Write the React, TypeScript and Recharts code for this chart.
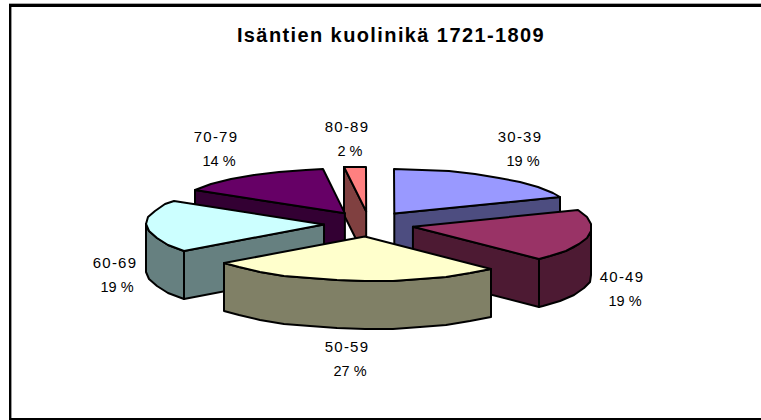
import { PieChart, Pie } from "recharts";

const categories = ["30-39", "40-49", "50-59", "60-69", "70-79", "80-89"];
const shares = [19, 19, 27, 19, 14, 2];
const topColors = ["#9999ff", "#993366", "#ffffcc", "#ccffff", "#660066", "#ff8080"];
const sideColors = ["#4d4d80", "#4d1a33", "#808066", "#668080", "#330033", "#804040"];

// back to front, svg has no z-index
const drawOrder = ["80-89", "70-79", "30-39", "60-69", "40-49", "50-59"];

// x centre of the first and of the second line, baseline of the first line
const labelSpots: Record<string, [number, number, number]> = {
  "30-39": [520, 523, 141.5],
  "40-49": [622, 625, 281.5],
  "50-59": [347, 350, 351.5],
  "60-69": [115, 117, 267.5],
  "70-79": [216, 219, 141.5],
  "80-89": [347, 350, 131.5],
};

const data = categories.map((name, i) => ({ name, value: shares[i] }));

const SQUASH = 0.25;
const DEPTH = 48;
const EXPLODE = 45;
const EXPLODE_Y = 12.6;
const ARC_STEP = 9;
const TILT = 6;

const rad = (deg: number) => (deg * Math.PI) / 180;

function Slice3D(props: any) {
  const { cx, cy, outerRadius, startAngle, endAngle, name } = props;
  const idx = categories.indexOf(name);
  // recharts angles -> clockwise from 12 o'clock
  const a0 = 90 - startAngle;
  const a1 = 90 - endAngle;
  const mid = (a0 + a1) / 2;
  const ax = cx + EXPLODE * Math.sin(rad(mid));
  const ay = cy - EXPLODE_Y * Math.cos(rad(mid));

  const pt = (deg: number, drop = 0) => {
    // the near half of the reference leans a little to the right
    const lean = TILT * Math.max(0, -Math.cos(rad(deg)));
    const x = ax + outerRadius * Math.sin(rad(deg)) + lean;
    const y = ay - outerRadius * SQUASH * Math.cos(rad(deg)) + drop;
    return `${Math.round(x)},${Math.round(y)}`;
  };
  const arc = (from: number, to: number, drop = 0) => {
    const out: string[] = [];
    for (let d = from; d < to; d += ARC_STEP) out.push(pt(d, drop));
    out.push(pt(to, drop));
    return out;
  };

  const style = {
    stroke: "#000",
    strokeWidth: 2,
    strokeLinejoin: "round" as const,
  };
  const side = sideColors[idx];
  const apex = `${ax},${ay}`;
  const apexLow = `${ax},${ay + DEPTH}`;

  const frontFrom = Math.max(a0, 90);
  const frontTo = Math.min(a1, 270);

  return (
    <g>
      {Math.sin(rad(a0)) < 0 && (
        <polygon points={[apex, pt(a0), pt(a0, DEPTH), apexLow].join(" ")} fill={side} {...style} />
      )}
      {Math.sin(rad(a1)) > 0 && (
        <polygon points={[apex, pt(a1), pt(a1, DEPTH), apexLow].join(" ")} fill={side} {...style} />
      )}
      {frontFrom < frontTo && (
        <polygon
          points={[...arc(frontFrom, frontTo), ...arc(frontFrom, frontTo, DEPTH).reverse()].join(" ")}
          fill={side}
          {...style}
        />
      )}
      <polygon points={[apex, ...arc(a0, a1)].join(" ")} fill={topColors[idx]} {...style} />
    </g>
  );
}

function SliceLabel(props: any) {
  const spot = labelSpots[props.name];
  if (!spot) return null;
  const [x1, x2, y] = spot;
  return (
    <text textAnchor="middle" fontFamily="Liberation Sans" fill="#000">
      <tspan x={x1} y={y} fontSize={15} letterSpacing={1.2}>
        {props.name}
      </tspan>
      <tspan x={x2} y={y + 24} fontSize={14.5} letterSpacing={0}>
        {`${props.value} %`}
      </tspan>
    </text>
  );
}

export default function App() {
  return (
    <div style={{ position: "absolute", left: 0, top: 0, width: 761, height: 420, overflow: "hidden", background: "#fff" }}>
      <div style={{ position: "absolute", left: 9, top: 3, width: 752, height: 1, background: "#aaa" }} />
      <div style={{ position: "absolute", left: 9, top: 4, width: 752, height: 3, background: "#000" }} />
      <div style={{ position: "absolute", left: 9, top: 4, width: 2, height: 416, background: "#000" }} />
      <div style={{ position: "absolute", left: 11, top: 7, width: 1, height: 411, background: "#999" }} />
      <div style={{ position: "absolute", left: 9, top: 418, width: 752, height: 2, background: "#000" }} />
      <div style={{ position: "absolute", left: 0, top: 0 }}>
        <PieChart width={761} height={420} margin={{ top: 0, right: 0, bottom: 0, left: 0 }}>
          <text
            x={391}
            y={41.5}
            textAnchor="middle"
            fontFamily="Liberation Sans"
            fontWeight="bold"
            fontSize={20}
            letterSpacing={1.4}
            fill="#000"
          >
            Isäntien kuolinikä 1721-1809
          </text>
          {drawOrder.map((target) => (
            <Pie
              key={target}
              data={data}
              dataKey="value"
              nameKey="name"
              cx={369}
              cy={224}
              innerRadius={0}
              outerRadius={178}
              startAngle={90}
              endAngle={-270}
              paddingAngle={0}
              isAnimationActive={false}
              labelLine={false}
              label={target === "50-59" ? (p: any) => <SliceLabel {...p} /> : false}
              shape={(p: any) => (p.name === target ? <Slice3D {...p} /> : <g />)}
            />
          ))}
        </PieChart>
      </div>
    </div>
  );
}
